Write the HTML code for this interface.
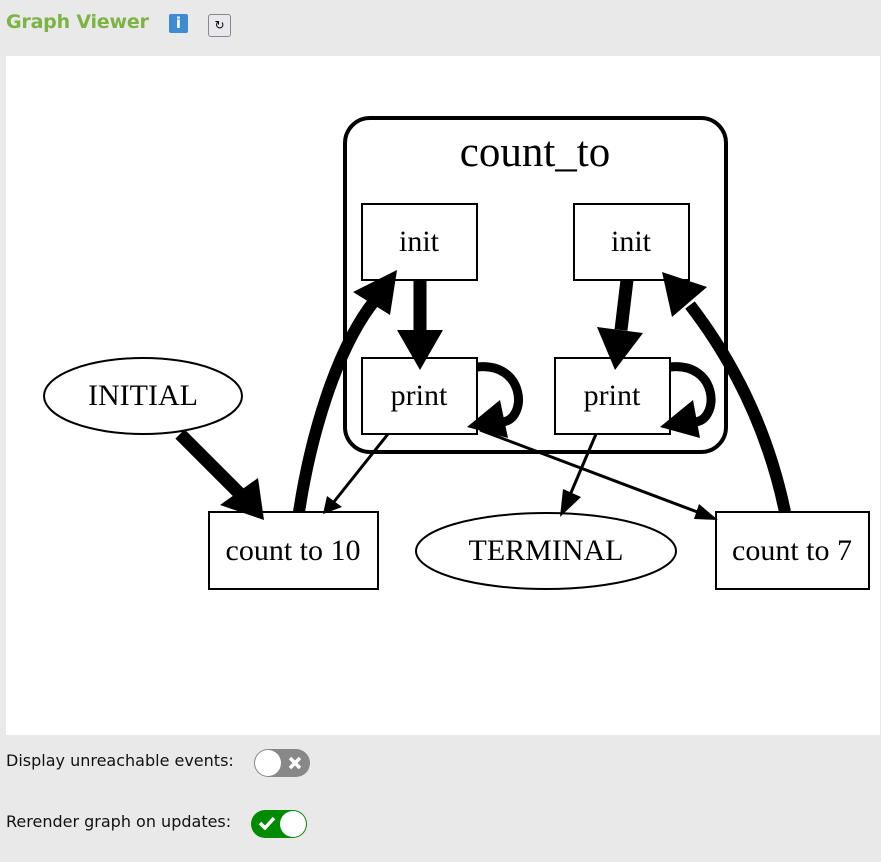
<!DOCTYPE html>
<html><head><meta charset="utf-8"><style>
body{margin:0;width:881px;height:862px;background:#e9e9e9;position:relative;overflow:hidden;font-family:"DejaVu Sans","Liberation Sans",sans-serif}
.t{position:absolute;font-size:16px;color:#111}
</style></head><body>
<div style="position:absolute;left:6px;top:11px;font-size:19px;font-weight:bold;color:#7cb342;letter-spacing:-0.2px">Graph Viewer</div>
<div style="position:absolute;left:169px;top:14px;width:19px;height:19px;background:#3d8bd0;border-radius:2px;color:#fff;font-weight:bold;font-size:15px;text-align:center;line-height:19px">i</div>
<div style="position:absolute;left:208px;top:14px;width:21px;height:21px;background:#e8e8ee;border:1px solid #888;border-radius:3px;font-size:12px;text-align:center;line-height:21px">↻</div>
<div style="position:absolute;left:6px;top:56px;width:874px;height:679px;background:#fff"></div>
<svg style="position:absolute;left:0;top:0" width="881" height="862" font-family="Liberation Serif,serif">
<rect x="345" y="118" width="381" height="334" rx="25" fill="none" stroke="#000" stroke-width="4"/>
<text x="535" y="166" font-size="43" text-anchor="middle">count_to</text>
<g fill="#fff" stroke="#000" stroke-width="2">
<rect x="362" y="204" width="115" height="76"/><rect x="574" y="204" width="115" height="76"/>
<rect x="362" y="358" width="115" height="76"/><rect x="555" y="358" width="115" height="76"/>
<ellipse cx="143" cy="396" rx="99" ry="38"/><rect x="209" y="512" width="169" height="77"/>
<ellipse cx="546" cy="551" rx="130" ry="38"/><rect x="716" y="512" width="153" height="77"/>
</g>
<g font-size="30" text-anchor="middle">
<text x="419" y="251">init</text><text x="631" y="251">init</text>
<text x="419" y="405">print</text><text x="612" y="405">print</text>
<text x="143" y="405">INITIAL</text><text x="293" y="560">count to 10</text>
<text x="546" y="560">TERMINAL</text><text x="792" y="560">count to 7</text>
</g>
<g stroke="#000" fill="none">
<line x1="180" y1="434" x2="242" y2="496" stroke-width="13"/>
<path d="M299,512 C310,440 335,350 375,300" stroke-width="12"/>
<line x1="420" y1="280" x2="420" y2="332" stroke-width="13"/>
<line x1="627" y1="280" x2="621" y2="330" stroke-width="13"/>
<path d="M785,512 C770,440 740,370 690,305" stroke-width="12"/>
<path d="M477,367 C525,362 528,418 503,422" stroke-width="9"/>
<path d="M670,367 C718,362 720,418 696,422" stroke-width="9"/>
<line x1="388" y1="434" x2="333" y2="503" stroke-width="3"/>
<line x1="596" y1="434" x2="570" y2="495" stroke-width="3"/>
<line x1="480" y1="430" x2="700" y2="513" stroke-width="3"/>
</g>
<g fill="#000">
<polygon points="264,520 220,505 258,478"/>
<polygon points="397,270 353,292 390,315"/>
<polygon points="420,370 397,330 443,330"/>
<polygon points="615,370 597,327 643,333"/>
<polygon points="662,272 707,287 672,317"/>
<polygon points="467,427 500,400 508,438"/>
<polygon points="660,427 693,400 700,438"/>
<polygon points="323,514 327,496 342,507"/>
<polygon points="560,517 563,489 581,497"/>
<polygon points="718,520 694,519 699,504"/>
</g>
</svg>
<div class="t" style="left:6px;top:751px">Display unreachable events:</div>
<div style="position:absolute;left:254px;top:749px;width:56px;height:28px;border-radius:14px;background:#888"></div>
<div style="position:absolute;left:255px;top:750px;width:26px;height:26px;border-radius:13px;background:#fff"></div>
<svg style="position:absolute;left:288px;top:756px" width="14" height="14"><path d="M2,2 L12,12 M12,2 L2,12" stroke="#fff" stroke-width="3.5"/></svg>
<div class="t" style="left:6px;top:812px">Rerender graph on updates:</div>
<div style="position:absolute;left:251px;top:810px;width:56px;height:28px;border-radius:14px;background:#008a00"></div>
<div style="position:absolute;left:280px;top:811px;width:26px;height:26px;border-radius:13px;background:#fff"></div>
<svg style="position:absolute;left:258px;top:816px" width="18" height="14"><path d="M2,7 L7,12 L16,2" stroke="#fff" stroke-width="3.5" fill="none"/></svg>
</body></html>
